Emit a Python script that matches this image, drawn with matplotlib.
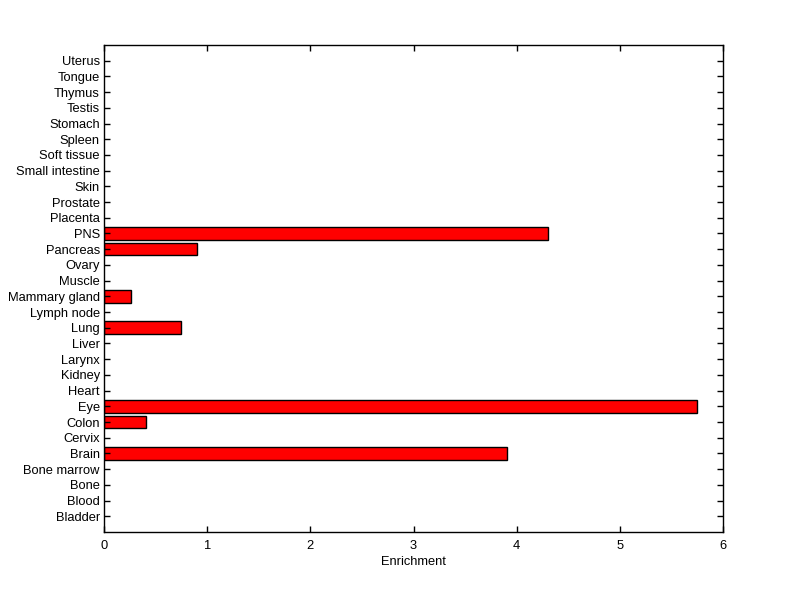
import matplotlib
matplotlib.use('Agg')
import matplotlib.pyplot as plt

tissues = ['Bladder', 'Blood', 'Bone', 'Bone marrow', 'Brain', 'Cervix', 'Colon',
           'Eye', 'Heart', 'Kidney', 'Larynx', 'Liver', 'Lung', 'Lymph node',
           'Mammary gland', 'Muscle', 'Ovary', 'Pancreas', 'PNS', 'Placenta',
           'Prostate', 'Skin', 'Small intestine', 'Soft tissue', 'Spleen',
           'Stomach', 'Testis', 'Thymus', 'Tongue', 'Uterus']
enrichment = [0, 0, 0, 0, 3.91, 0, 0.41,
              5.75, 0, 0, 0, 0, 0.75, 0,
              0.26, 0, 0, 0.90, 4.30, 0,
              0, 0, 0, 0, 0,
              0, 0, 0, 0, 0]
xticks = [0, 1, 2, 3, 4, 5, 6]

plt.rcParams['font.family'] = ['Liberation Sans', 'DejaVu Sans']

fig = plt.figure(figsize=(8, 5.99), dpi=100)
ax = fig.add_axes([0.13, 0.1119, 0.77375, 0.813])

pos = list(range(1, len(tissues) + 1))
for p, v in zip(pos, enrichment):
    if v > 0:
        ax.barh(p, v, height=0.8, color='#ff0000', edgecolor='black', linewidth=1.0)

ax.set_xlim(0, 6)
ax.set_ylim(0, len(tissues) + 1)
ax.set_xticks(xticks)
ax.set_yticks(pos)
ax.set_yticklabels(tissues)
ax.tick_params(direction='in', length=4.5, width=1, labelsize=9.3,
               top=True, right=True)
ax.tick_params(axis='x', pad=6)
ax.tick_params(axis='y', pad=3)
for s in ax.spines.values():
    s.set_linewidth(1)
ax.set_xlabel('Enrichment', fontsize=9.3, labelpad=3)

fig.savefig('out.png', dpi=100)
